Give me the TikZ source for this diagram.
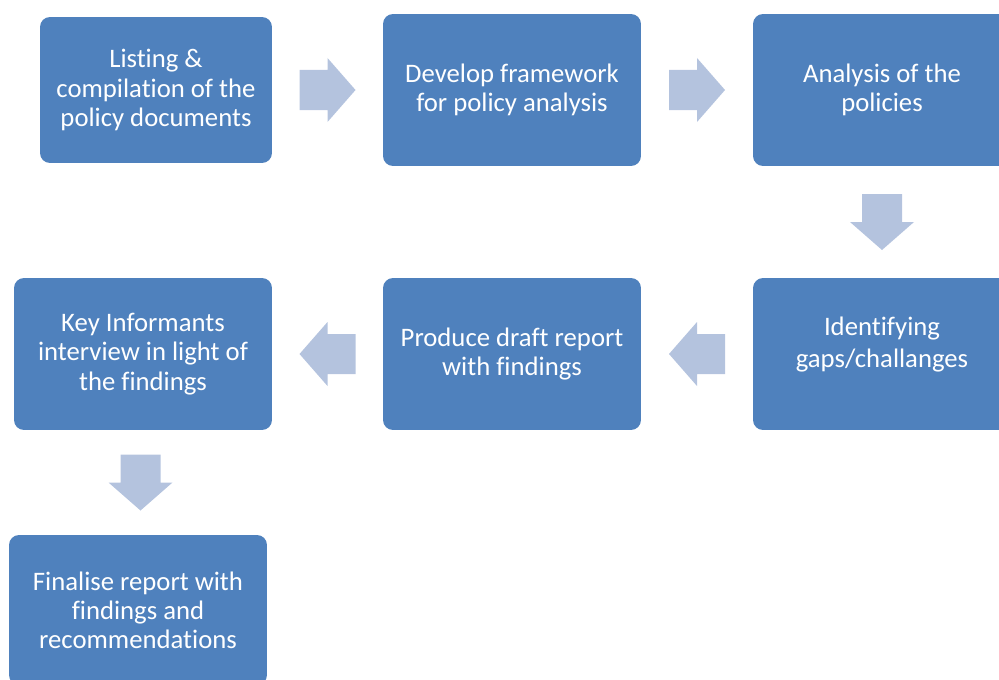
\documentclass[tikz,border=0pt]{standalone}
\usepackage{fontspec}
\setmainfont[Ligatures=NoCommon]{Carlito}
\usetikzlibrary{calc}
\definecolor{boxblue}{HTML}{4F81BD}
\definecolor{arrowblue}{HTML}{B4C3DE}

\begin{document}
\begin{tikzpicture}[x=0.02cm, y=-0.02cm,
    every node/.style={font=\fontsize{15.2}{16.6}\selectfont, text=white, align=center},
    stepbox/.style={fill=boxblue, rounded corners=0.2cm, minimum width=5.16cm, minimum height=3.04cm},
    blockarr/.pic={\fill[arrowblue] (-28,-20) -- (0,-20) -- (0,-32) -- (28,0) -- (0,32) -- (0,20) -- (-28,20) -- cycle;}
]
\clip (0,0) rectangle (999,679);

% Row 1 - left to right
\node[stepbox, minimum width=4.64cm, minimum height=2.92cm] (listing) at (156, 90) {Listing \&\\compilation of the\\policy documents};
\node[stepbox] (frame)    at (512, 90) {Develop framework\\for policy analysis};
\node[stepbox] (analysis) at (882, 90) {Analysis of the\\policies};

% Row 2 - right to left
\node[stepbox, font=\fontsize{15.2}{18}\selectfont, text depth=13.5pt] (gaps) at (882, 354) {Identifying\\gaps/challanges};
\node[stepbox] (draft) at (512, 354) {Produce draft report\\with findings};
\node[stepbox] (kii)   at (143, 354) {Key Informants\\interview in light of\\the findings};

% Row 3 - output
\node[stepbox, minimum height=3.0cm] (final) at (138, 610) {Finalise report with\\findings and\\recommendations};

% Block arrows between the steps
\pic at ($(listing.east)!0.5!(frame.west)$) {blockarr};
\pic at ($(frame.east)!0.5!(analysis.west)$) {blockarr};
\pic[rotate=-90] at ($(analysis.south)!0.5!(gaps.north)$) {blockarr};
\pic[rotate=180] at ($(gaps.west)!0.5!(draft.east)$) {blockarr};
\pic[rotate=180] at ($(draft.west)!0.5!(kii.east)$) {blockarr};
\pic[rotate=-90] at ($(kii.south)!0.5!(final.north)$) {blockarr};
\end{tikzpicture}
\end{document}
